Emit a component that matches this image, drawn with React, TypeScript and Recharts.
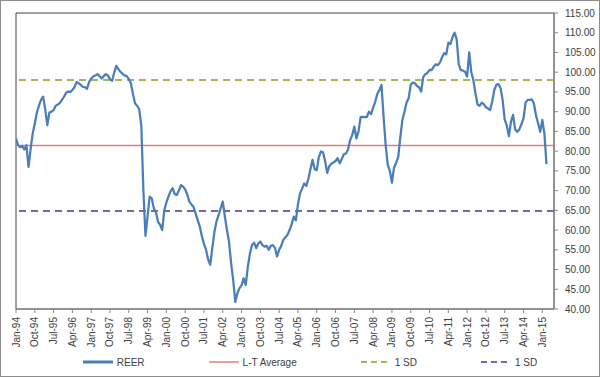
import React from 'react';
import { LineChart, Line, XAxis, YAxis, ReferenceLine, ReferenceArea } from 'recharts';

// Monthly REER values, Jan-94 .. Mar-15 (one row per year)
const REER: number[] = [
  83.2, 81.5, 81.0, 81.3, 80.4, 81.5, 76.0, 80.5, 84.5, 87.0, 89.8, 91.5,
  93.0, 93.8, 90.5, 86.6, 89.8, 90.0, 90.4, 91.5, 91.8, 92.2, 93.0, 93.8,
  94.8, 95.1, 95.0, 95.5, 96.2, 97.5, 97.2, 96.8, 96.3, 96.2, 95.8, 97.5,
  98.4, 98.9, 99.2, 99.5, 99.0, 98.4, 99.0, 99.5, 99.2, 98.2, 97.8, 99.8,
  101.6, 100.8, 100.1, 99.6, 99.2, 99.0, 98.3, 97.2, 94.5, 92.1, 91.5, 90.6,
  86.5, 70.0, 58.5, 63.5, 68.5, 68.0, 65.5, 64.5, 62.1, 61.3, 60.0, 65.0,
  67.0, 68.5, 69.8, 70.6, 69.1, 68.9, 70.0, 71.4, 71.0, 70.3, 69.0, 67.2,
  66.5, 65.9, 64.2, 62.5, 60.9, 58.5, 56.5, 55.0, 52.5, 51.2, 55.5, 59.5,
  62.2, 63.8, 65.5, 67.2, 63.5, 60.0, 57.0, 51.6, 47.3, 41.8, 44.0, 45.3,
  46.0, 47.8, 46.1, 50.7, 54.0, 56.2, 56.8, 55.4, 56.6, 57.1, 56.2, 55.8,
  56.0, 55.0, 56.0, 56.2, 55.5, 53.3, 55.0, 56.0, 57.5, 58.2, 58.8, 60.0,
  61.5, 63.4, 62.5, 66.5, 69.3, 70.5, 71.8, 71.2, 73.0, 75.5, 77.8, 75.4,
  75.2, 78.5, 79.9, 79.7, 77.5, 74.5, 76.2, 76.8, 77.1, 77.5, 78.2, 76.9,
  78.0, 79.2, 79.4, 80.5, 82.8, 84.1, 86.2, 83.2, 85.0, 88.6, 88.7, 88.6,
  88.7, 90.0, 89.4, 91.0, 92.5, 94.5, 95.5, 96.8, 88.7, 81.5, 76.5, 75.0,
  72.0, 75.8, 77.0, 78.5, 83.5, 87.9, 90.0, 92.3, 93.4, 96.8, 97.4, 97.2,
  96.5, 96.2, 95.1, 98.8, 99.5, 99.8, 100.6, 100.5, 101.4, 102.0, 101.8, 102.5,
  103.8, 104.8, 104.5, 107.5, 107.1, 108.8, 110.0, 108.3, 102.0, 100.5, 100.4, 100.1,
  98.9, 105.0, 100.0, 98.0, 94.6, 91.8, 91.5, 92.3, 91.9, 91.1, 90.8, 90.4,
  92.5, 95.5, 96.8, 97.0, 96.0, 93.0, 88.0, 86.5, 83.8, 87.5, 89.2, 85.5,
  84.9, 85.5, 86.8, 88.3, 92.3, 93.0, 93.0, 93.1, 92.0, 89.0, 87.0, 84.9,
  87.9, 84.5, 76.7,
];

const LT_AVERAGE = 81.4;
const SD_UPPER = 98.0;
const SD_LOWER = 64.8;

const TICK_LABELS = [
  'Jan-94', 'Oct-94', 'Jul-95', 'Apr-96', 'Jan-97', 'Oct-97', 'Jul-98', 'Apr-99',
  'Jan-00', 'Oct-00', 'Jul-01', 'Apr-02', 'Jan-03', 'Oct-03', 'Jul-04', 'Apr-05',
  'Jan-06', 'Oct-06', 'Jul-07', 'Apr-08', 'Jan-09', 'Oct-09', 'Jul-10', 'Apr-11',
  'Jan-12', 'Oct-12', 'Jul-13', 'Apr-14', 'Jan-15',
];
const TICK_STEP = 9;
const X_MAX = 257.6;

const Y_TICKS = [40, 45, 50, 55, 60, 65, 70, 75, 80, 85, 90, 95, 100, 105, 110, 115];

const SERIES = [
  { name: 'REER', color: '#4A7EBB', width: 3, dash: undefined as string | undefined },
  { name: 'L-T Average', color: '#DC8280', width: 1.5, dash: undefined as string | undefined },
  { name: '1 SD', color: '#9BBB59', width: 2, dash: '6 4' },
  { name: '1 SD', color: '#8064A2', width: 2, dash: '6 4' },
];

const FONT = '"Liberation Sans", Arial, sans-serif';
const TEXT = '#404040';

const data = REER.map((v, i) => ({ m: i, reer: v }));
const xTicks = TICK_LABELS.map((_, i) => i * TICK_STEP);

const XTick = (props: any) => {
  const { x, y, payload } = props;
  const label = TICK_LABELS[Math.round(payload.value / TICK_STEP)];
  return (
    <g transform={`translate(${x},${y})`}>
      <text transform="rotate(-90)" textAnchor="end" dy="0.35em" fontSize={10} fill={TEXT} fontFamily={FONT}>
        {label}
      </text>
    </g>
  );
};

export default function App() {
  return (
    <div style={{ position: 'absolute', left: 0, top: 0, width: 600, height: 377, background: '#fff' }}>
      <LineChart width={600} height={377} data={data} margin={{ top: 13, right: 0, left: 16, bottom: 0 }}>
        <ReferenceArea x1={0} x2={X_MAX} y1={40} y2={115} fill="none" stroke="#404040" strokeWidth={1} />
        <XAxis
          dataKey="m"
          type="number"
          domain={[0, X_MAX]}
          ticks={xTicks}
          interval={0}
          allowDataOverflow
          height={68}
          tick={<XTick />}
          tickSize={4}
          tickMargin={4}
          axisLine={{ stroke: '#868686' }}
          tickLine={{ stroke: '#868686' }}
        />
        <YAxis
          orientation="right"
          domain={[40, 115]}
          ticks={Y_TICKS}
          interval={0}
          width={46}
          tickFormatter={(v: number) => v.toFixed(2)}
          tick={{ fontSize: 10, fill: TEXT, fontFamily: FONT }}
          tickSize={4}
          tickMargin={7}
          axisLine={{ stroke: '#868686' }}
          tickLine={{ stroke: '#868686' }}
        />
        <ReferenceLine y={LT_AVERAGE} stroke={SERIES[1].color} strokeWidth={1.5} />
        <ReferenceLine y={SD_UPPER} stroke={SERIES[2].color} strokeWidth={2} strokeDasharray="7 5" />
        <ReferenceLine y={SD_LOWER} stroke={SERIES[3].color} strokeWidth={2} strokeDasharray="7 5" />
        <Line
          dataKey="reer"
          stroke={SERIES[0].color}
          strokeWidth={2.25}
          dot={false}
          activeDot={false}
          strokeLinejoin="round"
          isAnimationActive={false}
        />
      </LineChart>
      <div
        style={{
          position: 'absolute',
          left: 0,
          top: 356,
          width: 600,
          height: 12,
          display: 'flex',
          justifyContent: 'center',
          alignItems: 'center',
          gap: 64,
          paddingLeft: 20,
          boxSizing: 'border-box',
          fontFamily: FONT,
          fontSize: 10,
          color: TEXT,
        }}
      >
        {SERIES.map((s, i) => (
          <div key={i} style={{ display: 'flex', alignItems: 'center' }}>
            <svg width={31} height={10} style={{ display: 'block' }}>
              <line x1={0} y1={5} x2={30} y2={5} stroke={s.color} strokeWidth={s.width} strokeDasharray={s.dash} />
            </svg>
            <span style={{ marginLeft: 3, whiteSpace: 'nowrap' }}>{s.name}</span>
          </div>
        ))}
      </div>
      <div
        style={{
          position: 'absolute',
          left: 0,
          top: 0,
          width: 600,
          height: 377,
          border: '1px solid #8c8c8c',
          boxSizing: 'border-box',
          pointerEvents: 'none',
        }}
      />
    </div>
  );
}
